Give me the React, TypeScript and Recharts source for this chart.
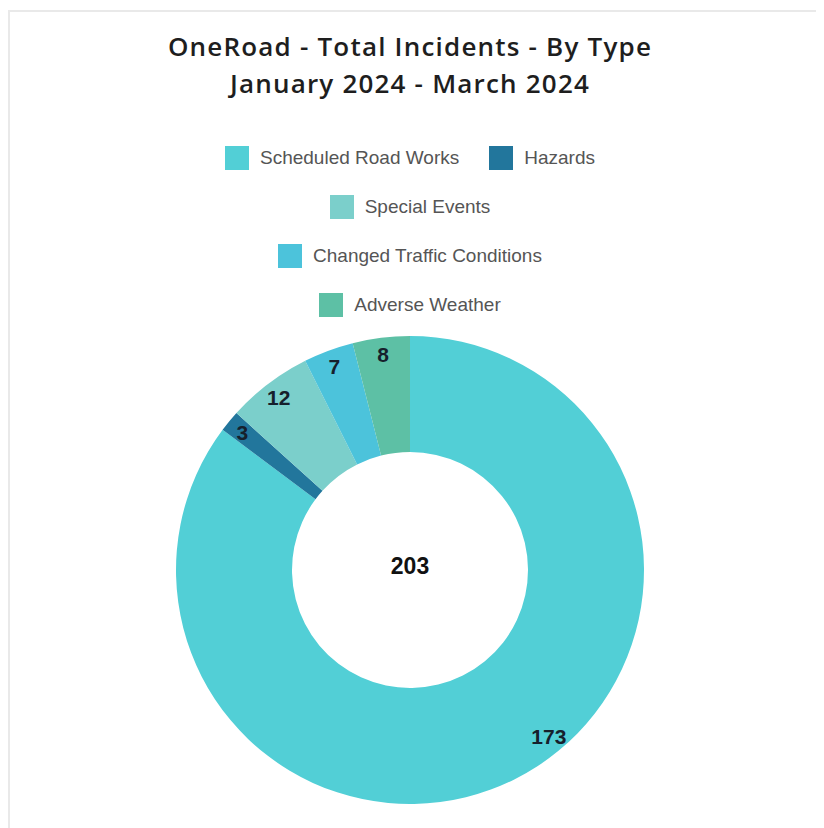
import { PieChart, Pie, Cell, Legend } from 'recharts'

const titleLines = ['OneRoad - Total Incidents - By Type', 'January 2024 - March 2024']
const categories = ['Scheduled Road Works', 'Hazards', 'Special Events', 'Changed Traffic Conditions', 'Adverse Weather']
const incidents = [173, 3, 12, 7, 8]
const colors = ['#52CFD6', '#22769C', '#7BCFCB', '#4CC3DB', '#5DC0A5']
const legendRows = [[0, 1], [2], [3], [4]]

const data = categories.map((name, i) => ({ name, value: incidents[i] }))
const total = incidents.reduce((a, b) => a + b, 0)

const RADIAN = Math.PI / 180
const labelFont = "'Liberation Sans', Arial, sans-serif"

const renderLabel = (props: any) => {
	const { cx, cy, outerRadius, midAngle, startAngle, endAngle, percent, value, index } = props
	// the big slice has its label pulled back toward the lower right, like the original
	const angle = percent > 0.5 ? startAngle + (endAngle - startAngle) * 0.457 : midAngle
	const r = outerRadius - 17
	const x = cx + r * Math.cos(-angle * RADIAN)
	const y = cy + r * Math.sin(-angle * RADIAN)
	return (
		<g>
			<text x={x} y={y} textAnchor="middle" dominantBaseline="central" fill="#16202c" fontSize={21} fontWeight="bold" fontFamily={labelFont}>
				{value}
			</text>
			{index === 0 && (
				<text x={cx} y={cy - 4} textAnchor="middle" dominantBaseline="central" fill="#111" fontSize={23} fontWeight="bold" fontFamily={labelFont}>
					{total}
				</text>
			)}
		</g>
	)
}

const renderLegend = () => (
	<div style={{ fontFamily: labelFont, fontSize: 19, color: '#555' }}>
		{legendRows.map((row, ri) => (
			<div key={ri} style={{ display: 'flex', justifyContent: 'center', alignItems: 'center', height: 49 }}>
				{row.map((idx, k) => (
					<div key={idx} style={{ display: 'flex', alignItems: 'center', marginLeft: k > 0 ? 30 : 0 }}>
						<span style={{ display: 'inline-block', width: 24, height: 24, background: colors[idx], marginRight: 11 }} />
						<span>{categories[idx]}</span>
					</div>
				))}
			</div>
		))}
	</div>
)

export default function App() {
	return (
		<div style={{ position: 'relative', width: 814, height: 818, marginTop: 2, borderTop: '2px solid #e9e9e9', borderLeft: '2px solid #e9e9e9', background: '#fff' }}>
			<div style={{ position: 'absolute', top: 16, left: 0, width: 800, textAlign: 'center', fontFamily: "'Open Sans', sans-serif", fontWeight: 600, fontSize: 26, letterSpacing: 1.2, lineHeight: '37px', color: '#1e1e1e' }}>
				{titleLines.map((t) => (
					<div key={t}>{t}</div>
				))}
			</div>
			<PieChart width={814} height={818}>
				<Legend verticalAlign="top" content={renderLegend} wrapperStyle={{ top: 121, left: 0, width: 800 }} />
				<Pie
					data={data}
					dataKey="value"
					nameKey="name"
					cx={395}
					cy={357}
					innerRadius={118}
					outerRadius={234}
					startAngle={90}
					endAngle={-270}
					stroke="none"
					label={renderLabel}
					labelLine={false}
					isAnimationActive={false}
				>
					{data.map((entry, index) => (
						<Cell key={`cell-${index}`} fill={colors[index]} />
					))}
				</Pie>
			</PieChart>
		</div>
	)
}
